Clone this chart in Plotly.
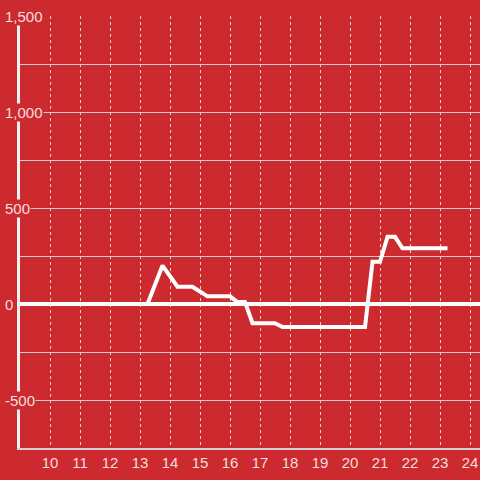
import plotly.graph_objects as go

# Data
hours = [9.0, 13.25, 13.75, 14.25, 14.75, 15.25, 16.0, 16.25, 16.5, 16.75,
         17.5, 17.75, 20.5, 20.75, 21.0, 21.25, 21.5, 21.75, 23.25]
values = [0, 0, 200, 90, 90, 40, 40, 10, 10, -100,
          -100, -120, -120, 220, 220, 350, 350, 290, 290]
x_ticks = list(range(10, 25))
y_label_vals = [1500, 1000, 500, 0, -500]
y_label_text = ["1,500", "1,000", "500", "0", "-500"]

BG = "#cc2a2f"
TXT = "rgba(255,255,255,0.85)"
FONT = "Liberation Sans, Arial, sans-serif"

fig = go.Figure()
fig.add_trace(go.Scatter(
    x=hours, y=values, mode="lines",
    line=dict(color="white", width=4),
    hoverinfo="skip", showlegend=False,
))

annotations = []
for v, t in zip(y_label_vals, y_label_text):
    annotations.append(dict(
        x=-0.034, xref="paper", xanchor="left",
        y=v, yref="y", yanchor="middle",
        text=t, showarrow=False,
        font=dict(family=FONT, size=15, color=TXT),
        bgcolor=BG, borderpad=0,
    ))

fig.update_layout(
    width=480, height=480,
    margin=dict(l=20, r=0, t=16, b=32),
    paper_bgcolor=BG, plot_bgcolor=BG,
    showlegend=False,
    font=dict(family=FONT, size=15, color=TXT),
    annotations=annotations,
    xaxis=dict(
        range=[9, 24.333], tickvals=x_ticks,
        ticktext=[str(t) for t in x_ticks],
        showgrid=True, gridcolor="rgba(230,230,230,0.9)", gridwidth=1, griddash="dot",
        showline=True, linecolor="#d0d0d0", linewidth=2,
        ticks="", zeroline=False,
        tickfont=dict(family=FONT, size=15, color=TXT),
    ),
    yaxis=dict(
        range=[-750, 1500], dtick=250, tick0=0,
        showgrid=True, gridcolor="#cfcfcf", gridwidth=1,
        showticklabels=False, ticks="",
        zeroline=True, zerolinecolor="white", zerolinewidth=4,
        showline=True, linecolor="#f2f2f2", linewidth=3,
    ),
)

fig.write_html(
    "out.html",
    config={"displayModeBar": False, "staticPlot": True},
    post_script="document.body.style.margin='0';document.body.style.padding='0';document.body.style.overflow='hidden';",
)
